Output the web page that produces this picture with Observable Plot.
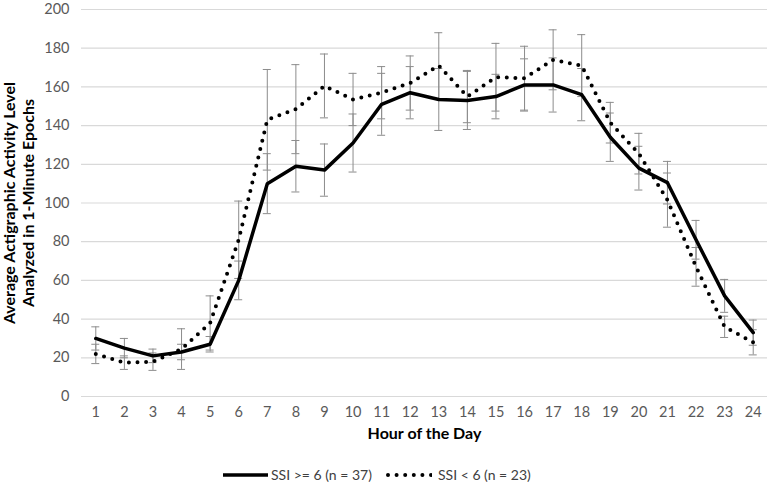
<!DOCTYPE html>
<html><head><meta charset="utf-8">
<script src="https://cdn.jsdelivr.net/npm/d3@7"></script>
<script src="https://cdn.jsdelivr.net/npm/@observablehq/plot@0.6"></script>
<style>
body{margin:0;background:#fff;font-family:Lato,"Open Sans",sans-serif;}
#wrap{position:relative;width:768px;height:495px;}
#legend{position:absolute;left:0;top:466px;width:768px;height:20px;font-size:14px;color:#404040;}
#legend .item{position:absolute;top:0;display:flex;align-items:center;}
</style></head>
<body><div id="wrap"><div id="chart"></div>
<div id="legend"></div></div>
<script>
const hours = [1,2,3,4,5,6,7,8,9,10,11,12,13,14,15,16,17,18,19,20,21,22,23,24];
const ssiHigh = [30,25,21,23,27,60,110,119,117,131,151,157,153.5,153,155,161,161,156,134,118,110.5,81,52,33];
const ssiHighErr = [6,5,3.5,4,4,10,15.5,13.3,13.5,15,16,13.5,16,15,11.5,13.5,14,13.5,12.5,11.3,11,10,8.5,6.5];
const ssiLow = [22,17.5,18,24.5,38,81,143,148.5,160.5,153.5,157,162,171,155,165,164.5,174,171,141.5,125.5,101.5,67,36,28];
const ssiLowErr = [5,3.5,4.5,10.5,14,20,26,23,16.5,13.5,13.5,14,17,13.5,17.5,16.5,15.5,16,10.5,10.5,14,10,5.5,6.5];
const seriesNames = ["SSI >= 6 (n = 37)", "SSI < 6 (n = 23)"];
const yTicks = [0,20,40,60,80,100,120,140,160,180,200];
const yTitle = "Average Actigraphic Activity Level\nAnalyzed in 1-Minute Epochs";
const xTitle = "Hour of the Day";

const rows = [];
hours.forEach((h,i)=>{
  rows.push({hour:h, value:ssiHigh[i], err:ssiHighErr[i], series:seriesNames[0]});
  rows.push({hour:h, value:ssiLow[i], err:ssiLowErr[i], series:seriesNames[1]});
});
const high = rows.filter(d=>d.series===seriesNames[0]);
const low = rows.filter(d=>d.series===seriesNames[1]);
const capHalf = 0.14;
const errColor = "#8c8c8c";

const chart = Plot.plot({
  width: 768, height: 450,
  marginTop: 9, marginBottom: 54, marginLeft: 81, marginRight: 1,
  style: {fontFamily: "Lato, 'Open Sans', sans-serif", fontSize: "14.5px", color: "#595959", background: "#fff"},
  x: {domain: [0.5, 24.5], ticks: hours, tickSize: 0, tickPadding: 10, tickFormat: d=>String(d), label: null},
  y: {domain: [0, 200], ticks: yTicks, tickSize: 0, tickPadding: 12, label: null},
  marks: [
    Plot.ruleY(yTicks, {stroke: "#d9d9d9", strokeWidth: 1.2}),
    Plot.ruleX(rows, {x: "hour", y1: d=>d.value-d.err, y2: d=>d.value+d.err, stroke: errColor, strokeWidth: 1}),
    Plot.ruleY(rows, {y: d=>d.value+d.err, x1: d=>d.hour-capHalf, x2: d=>d.hour+capHalf, stroke: errColor, strokeWidth: 1}),
    Plot.ruleY(rows, {y: d=>d.value-d.err, x1: d=>d.hour-capHalf, x2: d=>d.hour+capHalf, stroke: errColor, strokeWidth: 1}),
    Plot.line(low, {x: "hour", y: "value", stroke: "#000", strokeWidth: 4, strokeDasharray: "0 8.6", strokeLinecap: "round"}),
    Plot.line(high, {x: "hour", y: "value", stroke: "#000", strokeWidth: 3.5}),
    Plot.text([yTitle], {frameAnchor: "left", textAnchor: "middle", rotate: -90, dx: -63, lineHeight: 1.2, fontWeight: "bold", fontSize: 16, fill: "#000", lineAnchor: "middle"}),
    Plot.text([xTitle], {frameAnchor: "bottom", dy: 42, fontWeight: "bold", fontSize: 16, fill: "#000"})
  ]
});
document.getElementById("chart").appendChild(chart);

const legend = document.getElementById("legend");
const dashes = ["none", "0 8.6"];
const widths = [3.5, 4];
const lefts = [222, 384];
const gaps = [1, 6];
seriesNames.forEach((name,i)=>{
  const item = document.createElement("div");
  item.className = "item";
  item.style.left = lefts[i] + "px";
  item.innerHTML = `<svg width="48" height="10" style="margin-right:${gaps[i]}px"><line x1="${i?4:1}" y1="5" x2="${i?48:46}" y2="5" stroke="#000" stroke-width="${widths[i]}" stroke-dasharray="${dashes[i]}" stroke-linecap="${i?'round':'butt'}"/></svg><span>${name}</span>`;
  legend.appendChild(item);
});
</script></body></html>
